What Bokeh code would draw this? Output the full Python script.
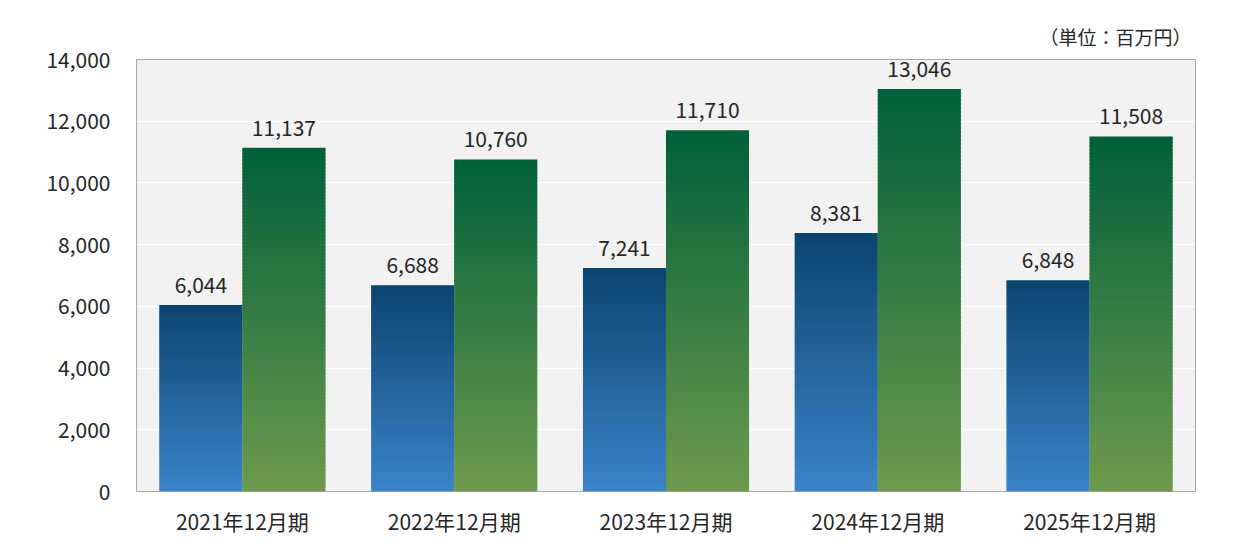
from bokeh.plotting import figure
from bokeh.models import (ColumnDataSource, Range1d, FixedTicker, NumeralTickFormatter,
                          Title, FactorRange)
from bokeh.transform import dodge
from bokeh.core.properties import value
from bokeh.embed import file_html
from bokeh.resources import INLINE

categories = ["2021年12月期", "2022年12月期", "2023年12月期", "2024年12月期", "2025年12月期"]
series_a = [6044, 6688, 7241, 8381, 6848]
series_b = [11137, 10760, 11710, 13046, 11508]
y_ticks = [0, 2000, 4000, 6000, 8000, 10000, 12000, 14000]
unit_label = "（単位：百万円）"

FONT = "Noto Sans CJK JP"
blue_top, blue_bottom = (12, 68, 112), (58, 132, 200)
green_top, green_bottom = (0, 96, 58), (110, 154, 78)
N = 100


def mix(c1, c2, t):
    return "#%02x%02x%02x" % tuple(int(round(a + (b - a) * t)) for a, b in zip(c1, c2))


def gradient_source(vals, ctop, cbot):
    cats, bots, tops, cols = [], [], [], []
    for c, v in zip(categories, vals):
        for i in range(N):
            cats.append(c)
            bots.append(v * i / N)
            tops.append(v * min(i + 1.6, N) / N)
            t = (i + 0.5) / N  # 0 bottom -> 1 top
            cols.append(mix(cbot, ctop, t))
    return ColumnDataSource(dict(cat=cats, bottom=bots, top=tops, color=cols))


p = figure(width=1232, height=543, x_range=FactorRange(*categories, range_padding=0),
           y_range=Range1d(0, 14000), output_backend="svg", toolbar_location=None,
           min_border_left=136, min_border_right=37, min_border_top=59, min_border_bottom=52)

p.background_fill_color = "#f2f2f2"
p.border_fill_color = "white"
p.outline_line_color = "#a6a6a6"
p.outline_line_width = 1

w = 0.392
off = 0.196
src_a = gradient_source(series_a, blue_top, blue_bottom)
src_b = gradient_source(series_b, green_top, green_bottom)
p.vbar(x=dodge("cat", -off, range=p.x_range), bottom="bottom", top="top", width=w,
       source=src_a, fill_color="color", line_color=None)
p.vbar(x=dodge("cat", off, range=p.x_range), bottom="bottom", top="top", width=w,
       source=src_b, fill_color="color", line_color=None)

lab = ColumnDataSource(dict(cat=categories, a=series_a, b=series_b,
                            ta=[f"{v:,}" for v in series_a], tb=[f"{v:,}" for v in series_b]))
for col, tcol, dx in (("a", "ta", -off), ("b", "tb", off)):
    p.text(x=dodge("cat", dx, range=p.x_range), y=col, text=tcol, source=lab,
           text_align="center", text_baseline="bottom", y_offset=-12,
           text_font=value(FONT), text_font_size="21px", text_color="#262626")

p.xgrid.visible = False
p.ygrid.grid_line_color = "white"
p.ygrid.grid_line_width = 1
p.yaxis.ticker = FixedTicker(ticks=y_ticks)
p.yaxis.formatter = NumeralTickFormatter(format="0,0")
for ax in (p.xaxis[0], p.yaxis[0]):
    ax.axis_line_color = None
    ax.major_tick_line_color = None
    ax.minor_tick_line_color = None
    ax.major_tick_out = 0
    ax.major_label_text_font = FONT
    ax.major_label_text_color = "#262626"
p.yaxis.major_label_text_font_size = "21px"
p.yaxis.major_label_standoff = 26
p.xaxis.major_label_text_font_size = "21px"
p.xaxis.major_label_standoff = 14

p.add_layout(Title(text=unit_label, align="right", text_font=FONT, text_font_size="19px",
                   text_font_style="normal", text_color="#262626", offset=4, standoff=20), "above")

open("out.html", "w").write(file_html(p, INLINE))
